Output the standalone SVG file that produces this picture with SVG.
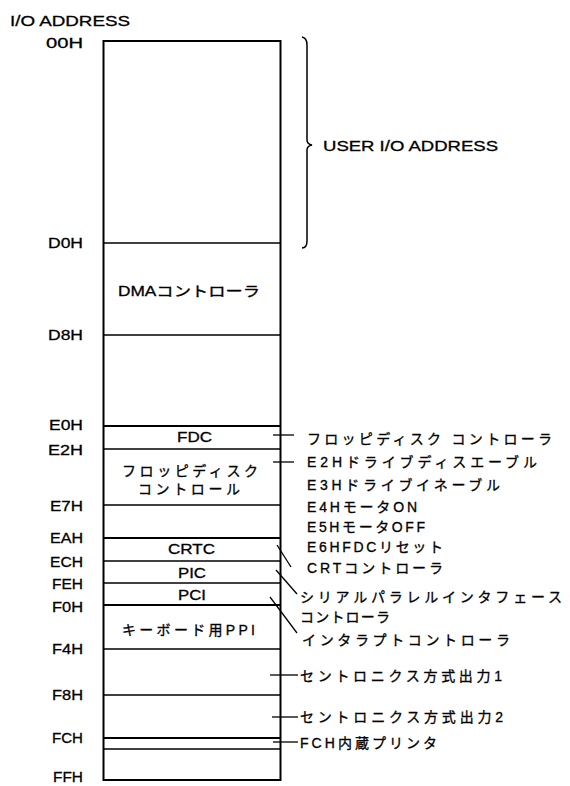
<svg xmlns="http://www.w3.org/2000/svg" width="570" height="786" viewBox="0 0 570 786">
<style>
text{font-family:"Liberation Sans","Noto Sans CJK JP",sans-serif;font-size:14px;fill:#000;stroke:#000;stroke-width:0.3}
.addr{text-anchor:end;font-size:15px}
.lat{font-size:15px}
.ln{stroke:#000;stroke-width:1.5;fill:none}
.thick{stroke:#000;stroke-width:2;fill:none}
.con{stroke:#000;stroke-width:1.3;fill:none}
</style>
<rect width="570" height="786" fill="#fff"/>
<text class="lat" x="10" y="26" textLength="120" lengthAdjust="spacingAndGlyphs">I/O ADDRESS</text>
<g id="addresses">
<text class="addr" x="83" y="48" textLength="37" lengthAdjust="spacingAndGlyphs">00H</text>
<text class="addr" x="83" y="248" textLength="35" lengthAdjust="spacingAndGlyphs">D0H</text>
<text class="addr" x="83" y="340" textLength="35" lengthAdjust="spacingAndGlyphs">D8H</text>
<text class="addr" x="83" y="430" textLength="34" lengthAdjust="spacingAndGlyphs">E0H</text>
<text class="addr" x="83" y="455" textLength="35" lengthAdjust="spacingAndGlyphs">E2H</text>
<text class="addr" x="83" y="511" textLength="33" lengthAdjust="spacingAndGlyphs">E7H</text>
<text class="addr" x="83" y="543" textLength="33" lengthAdjust="spacingAndGlyphs">EAH</text>
<text class="addr" x="83" y="567" textLength="33" lengthAdjust="spacingAndGlyphs">ECH</text>
<text class="addr" x="83" y="589" textLength="31" lengthAdjust="spacingAndGlyphs">FEH</text>
<text class="addr" x="83" y="612" textLength="31" lengthAdjust="spacingAndGlyphs">F0H</text>
<text class="addr" x="83" y="654" textLength="31" lengthAdjust="spacingAndGlyphs">F4H</text>
<text class="addr" x="83" y="700" textLength="31" lengthAdjust="spacingAndGlyphs">F8H</text>
<text class="addr" x="83" y="743" textLength="31" lengthAdjust="spacingAndGlyphs">FCH</text>
<text class="addr" x="83" y="782" textLength="30" lengthAdjust="spacingAndGlyphs">FFH</text>
</g>
<g id="memmap">
<rect class="thick" x="103.5" y="41" width="177" height="739"/>
<line class="ln" x1="103.5" y1="243" x2="280.5" y2="243"/>
<line class="ln" x1="103.5" y1="335" x2="280.5" y2="335"/>
<line class="thick" x1="103.5" y1="426" x2="280.5" y2="426"/>
<line class="ln" x1="103.5" y1="449" x2="280.5" y2="449"/>
<line class="ln" x1="103.5" y1="505" x2="280.5" y2="505"/>
<line class="thick" x1="103.5" y1="538" x2="280.5" y2="538"/>
<line class="ln" x1="103.5" y1="561" x2="280.5" y2="561"/>
<line class="ln" x1="103.5" y1="583" x2="280.5" y2="583"/>
<line class="thick" x1="103.5" y1="605" x2="280.5" y2="605"/>
<line class="ln" x1="103.5" y1="649" x2="280.5" y2="649"/>
<line class="ln" x1="103.5" y1="695" x2="280.5" y2="695"/>
<line class="thick" x1="103.5" y1="738" x2="280.5" y2="738"/>
<line class="ln" x1="103.5" y1="749" x2="280.5" y2="749"/>
</g>
<g id="blocks">
<text x="118" y="296" textLength="142" lengthAdjust="spacingAndGlyphs">DMAコントローラ</text>
<text class="lat" x="177" y="442" textLength="35" lengthAdjust="spacingAndGlyphs">FDC</text>
<text x="122" y="476" textLength="136" lengthAdjust="spacing">フロッピディスク</text>
<text x="138" y="494" textLength="102" lengthAdjust="spacing">コントロール</text>
<text class="lat" x="168" y="554" textLength="47" lengthAdjust="spacingAndGlyphs">CRTC</text>
<text class="lat" x="178" y="578" textLength="28" lengthAdjust="spacingAndGlyphs">PIC</text>
<text class="lat" x="178" y="600" textLength="28" lengthAdjust="spacingAndGlyphs">PCI</text>
<text x="122" y="635" textLength="133" lengthAdjust="spacing">キーボード用PPI</text>
</g>
<g id="user-range">
<path class="ln" d="M302,37 Q307,38 307,45 L307,140 Q307,144 312,145 Q307,146 307,150 L307,241 Q307,248 302,248"/>
<text class="lat" x="323" y="151" textLength="175" lengthAdjust="spacingAndGlyphs">USER I/O ADDRESS</text>
</g>
<g id="connectors">
<line class="con" x1="273" y1="435" x2="294" y2="435"/>
<line class="con" x1="273" y1="462" x2="294" y2="462"/>
<line class="con" x1="277" y1="545" x2="291" y2="567"/>
<line class="con" x1="276" y1="570" x2="297" y2="594"/>
<line class="con" x1="270" y1="597" x2="297" y2="633"/>
<line class="con" x1="270" y1="675" x2="298" y2="675"/>
<line class="con" x1="272" y1="717" x2="298" y2="717"/>
<line class="con" x1="273" y1="742" x2="298" y2="742"/>
</g>
<g id="labels">
<text x="307" y="444" textLength="245" lengthAdjust="spacing">フロッピディスク コントローラ</text>
<text x="307" y="467" textLength="230" lengthAdjust="spacing">E2Hドライブディスエーブル</text>
<text x="307" y="490" textLength="193" lengthAdjust="spacing">E3Hドライブイネーブル</text>
<text x="307" y="512" textLength="110" lengthAdjust="spacing">E4HモータON</text>
<text x="307" y="532" textLength="118" lengthAdjust="spacing">E5HモータOFF</text>
<text x="307" y="552" textLength="136" lengthAdjust="spacing">E6HFDCリセット</text>
<text x="307" y="573" textLength="136" lengthAdjust="spacing">CRTコントローラ</text>
<text x="300" y="602" textLength="262" lengthAdjust="spacing">シリアルパラレルインタフェース</text>
<text x="300" y="622" textLength="90" lengthAdjust="spacing">コントローラ</text>
<text x="302" y="645" textLength="208" lengthAdjust="spacing">インタラプトコントローラ</text>
<text x="300" y="681" textLength="202" lengthAdjust="spacing">セントロニクス方式出力1</text>
<text x="300" y="722" textLength="203" lengthAdjust="spacing">セントロニクス方式出力2</text>
<text x="300" y="748" textLength="137" lengthAdjust="spacing">FCH内蔵プリンタ</text>
</g>
</svg>
